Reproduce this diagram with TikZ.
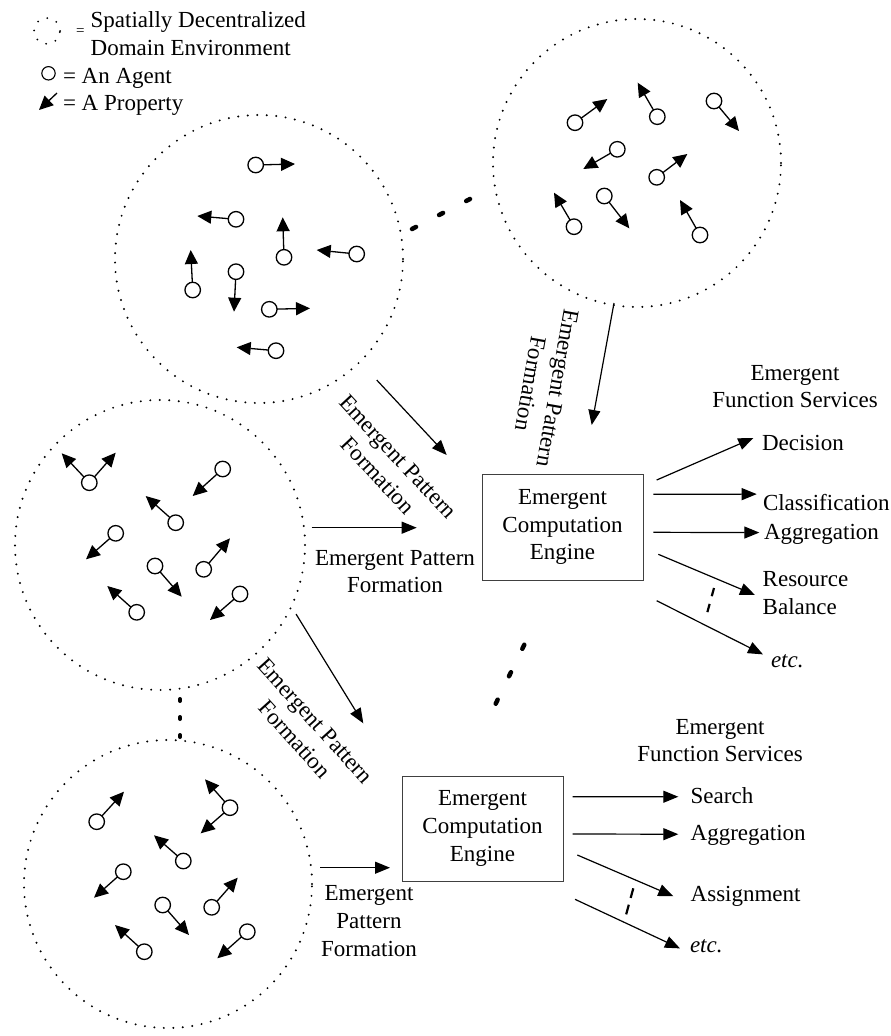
\documentclass[tikz,border=0pt]{standalone}
\usepackage{fontspec}
\setmainfont{Liberation Serif}
\usetikzlibrary{arrows.meta}

% an agent with one property arrow: name, centre, arrow tip
\newcommand\putagent[3]{%
  \node[agent] (#1) at (#2) {};
  \coordinate (#1-p) at (#3);
  \draw[prop] (#1) -- (#1-p);}
% a second property arrow on an existing agent
\newcommand\addprop[2]{%
  \coordinate (#1-q) at (#2);
  \draw[prop] (#1) -- (#1-q);}

\begin{document}
\begin{tikzpicture}[x=1pt,y=-1pt,
  every node/.style={font=\fontsize{23}{27.6}\selectfont, inner sep=0pt, outer sep=0pt},
  env/.style={circle, draw, line width=2.2pt, dash pattern=on 0pt off 9.5pt, line cap=round},
  agent/.style={circle, draw, line width=1.3pt, minimum size=15.5pt},
  prop/.style={line width=1.3pt, -{Triangle[length=14pt,width=13pt]}},
  flow/.style={line width=1.2pt, -{Triangle[length=15pt,width=12pt]}},
  engine/.style={draw=black!75, line width=0.8pt, minimum width=161pt, minimum height=106pt, align=center},
  lbl/.style={align=center},
  gapdash/.style={line width=4.5pt, line cap=round, dash pattern=on 4.5pt off 26pt},
  smalldash/.style={line width=2.2pt, dash pattern=on 8.5pt off 8pt},
]
\useasboundingbox (0,0) rectangle (891,1036);

% ---------- legend ----------
\node[circle, draw, line width=2pt, line cap=round, dash pattern=on 0pt off 10pt, minimum size=26pt] (lg-env) at (47,31) {};
\node[font=\fontsize{15}{16}\selectfont] (lg-eq) at (80.3,31.7) {=};
\node[anchor=west, align=left] (lg-envtxt) at (90.7,33.8) {Spatially Decentralized\\Domain Environment};
\node[agent, line width=1.1pt, minimum size=13.4pt] (lg-agent) at (48.5,73.3) {};
\node[anchor=base west] (lg-agtxt) at (63,83) {= An Agent};
\coordinate (lg-p0) at (57,93);
\coordinate (lg-p1) at (39,110);
\draw[prop] (lg-p0) -- (lg-p1);
\node[anchor=base west] (lg-prtxt) at (63,110) {= A Property};

% ---------- domain environments ----------
\node[env, minimum size=288pt] (envTL) at (259,259) {};
\node[env, minimum size=288pt] (envTR) at (637,163) {};
\node[env, minimum size=290pt] (envM) at (160,545) {};
\node[env, minimum size=288pt] (envB) at (168,884) {};

% agents, upper left environment
\putagent{tl1}{255.7,165}{295,164}
\putagent{tl2}{236,219.3}{197.3,216}
\putagent{tl3}{284,257.3}{282.7,217.3}
\putagent{tl4}{356.7,254}{316.7,250}
\putagent{tl5}{192.7,290}{190.7,250}
\putagent{tl6}{236,271.7}{234,311.7}
\putagent{tl7}{269.3,309.3}{310,308.3}
\putagent{tl8}{276,350.7}{236.7,347.3}

% agents, upper right environment
\putagent{tr1}{575,122.7}{607.3,99}
\putagent{tr2}{657.3,116.7}{637.7,82.7}
\putagent{tr3}{714,101}{739,131}
\putagent{tr4}{617.3,149.3}{583.3,169}
\putagent{tr5}{656.7,177.3}{687.3,154}
\putagent{tr6}{574,226.7}{554,192.7}
\putagent{tr7}{604.3,196}{629.3,228.3}
\putagent{tr8}{700,235}{680,200}

% agents, middle environment
\putagent{m1}{89.3,482.7}{61.7,453.3}
\addprop{m1}{115.7,452.7}
\putagent{m2}{222.7,469}{192.7,496}
\putagent{m3}{175.7,522.7}{145.7,496}
\putagent{m4}{115.7,533.3}{86,559.3}
\putagent{m5}{155,566}{181.7,596.7}
\putagent{m6}{203.7,569.3}{230,538.3}
\putagent{m7}{136.7,612.3}{107.3,586}
\putagent{m8}{240,594}{210,620}

% agents, lower environment
\putagent{b1}{96.7,821.7}{124,791.7}
\putagent{b2}{230,807.7}{205,779.3}
\addprop{b2}{200.7,833.3}
\putagent{b3}{183.3,861}{154,835.3}
\putagent{b4}{123.3,871.7}{94,897.7}
\putagent{b5}{162.7,905}{189,935}
\putagent{b6}{211.7,907.3}{237.7,877.7}
\putagent{b7}{144.3,951.7}{115,925}
\putagent{b8}{247.3,931.7}{217.3,958.3}

% ---------- ellipses between groups ----------
\coordinate (gap1a) at (412,229);   \coordinate (gap1b) at (470,199);
\draw[gapdash] (gap1a) -- (gap1b);
\coordinate (gap2a) at (495.7,703.7); \coordinate (gap2b) at (524.3,644.7);
\draw[gapdash] (gap2a) -- (gap2b);
\coordinate (gap3a) at (180,699);   \coordinate (gap3b) at (180,737);
\draw[line width=4pt, line cap=round, dash pattern=on 2pt off 16pt] (gap3a) -- (gap3b);

% ---------- computation engines ----------
\node[engine] (eng1) at (562.5,527) {Emergent\\Computation\\Engine};
\node[engine, minimum height=105pt] (eng2) at (482.5,828.5) {Emergent\\Computation\\Engine};

% pattern formation inputs
\draw[flow] ([shift={(6.7,-17.3)}]envM.east) -- ([shift={(-65.3,0.7)}]eng1.west);
\draw[flow] ([shift={(15.9,19.2)}]envTL.south east) -- ([shift={(-35.3,-19)}]eng1.north west);
\draw[flow] ([shift={(-23,-4)}]envTR.south) -- ([shift={(29.2,-49)}]eng1.north);
\draw[flow] ([shift={(8,-16.3)}]envB.east) -- ([shift={(-12,39.2)}]eng2.west);
\draw[flow] ([shift={(33.5,-33.5)}]envM.south east) -- ([shift={(-38.7,-52.7)}]eng2.north west);

\node[lbl, rotate=-47] (lab-tl) at (388,466) {Emergent Pattern\\Formation};
\node[lbl, rotate=-100] (lab-tr) at (544,386) {Emergent Pattern\\Formation};
\node[lbl] (lab-m) at (395,571.4) {Emergent Pattern\\Formation};
\node[lbl, rotate=-48] (lab-m2) at (305,730) {Emergent Pattern\\Formation};
\node[lbl] (lab-b) at (369,921) {Emergent\\Pattern\\Formation};

% ---------- function services, upper engine ----------
\node[lbl] (svc1) at (795,386.4) {Emergent\\Function Services};
\node[anchor=base west] (dec) at (762,450) {Decision};
\node[anchor=base west] (cls) at (763,510) {Classification};
\node[anchor=base west] (agg1) at (764,539) {Aggregation};
\node[anchor=west, align=left] (res) at (762.7,593.2) {Resource\\Balance};
\node[anchor=base west] (etc1) at (771,667) {\itshape etc.};

\draw[flow] ([shift={(13.7,-47)}]eng1.east) -- ([shift={(-8.7,-4.5)}]dec.west);
\draw[flow] ([shift={(10.3,-32.7)}]eng1.east) -- ([shift={(-6.3,-7.9)}]cls.west);
\draw[flow] ([shift={(10.3,5.3)}]eng1.east) -- ([shift={(-4.7,-1.3)}]agg1.west);
\draw[flow] ([shift={(15.3,27.3)}]eng1.east) -- ([shift={(-7.7,1.8)}]res.west);
\draw[flow] ([shift={(13.7,73.7)}]eng1.east) -- ([shift={(-8,-6.3)}]etc1.west);
\coordinate (dots1a) at (714,588); \coordinate (dots1b) at (707,613.5);
\draw[smalldash] (dots1a) -- (dots1b);

% ---------- function services, lower engine ----------
\node[lbl] (svc2) at (720,740.4) {Emergent\\Function Services};
\node[anchor=base west] (srch) at (690.7,803.3) {Search};
\node[anchor=base west] (agg2) at (690.7,840) {Aggregation};
\node[anchor=base west] (asg) at (690.7,901.7) {Assignment};
\node[anchor=base west] (etc2) at (690,952) {\itshape etc.};

\draw[flow] ([shift={(9.7,-31.8)}]eng2.east) -- ([shift={(-12.4,1.3)}]srch.west);
\draw[flow] ([shift={(9.7,5.5)}]eng2.east) -- ([shift={(-12.4,-0.65)}]agg2.west);
\draw[flow] ([shift={(14.3,26.5)}]eng2.east) -- ([shift={(-17.4,-0.35)}]asg.west);
\draw[flow] ([shift={(12,70.8)}]eng2.east) -- ([shift={(-10,2.7)}]etc2.west);
\coordinate (dots2a) at (633.3,888.3); \coordinate (dots2b) at (626,915);
\draw[smalldash, dash pattern=on 10pt off 7pt] (dots2a) -- (dots2b);
\end{tikzpicture}
\end{document}
